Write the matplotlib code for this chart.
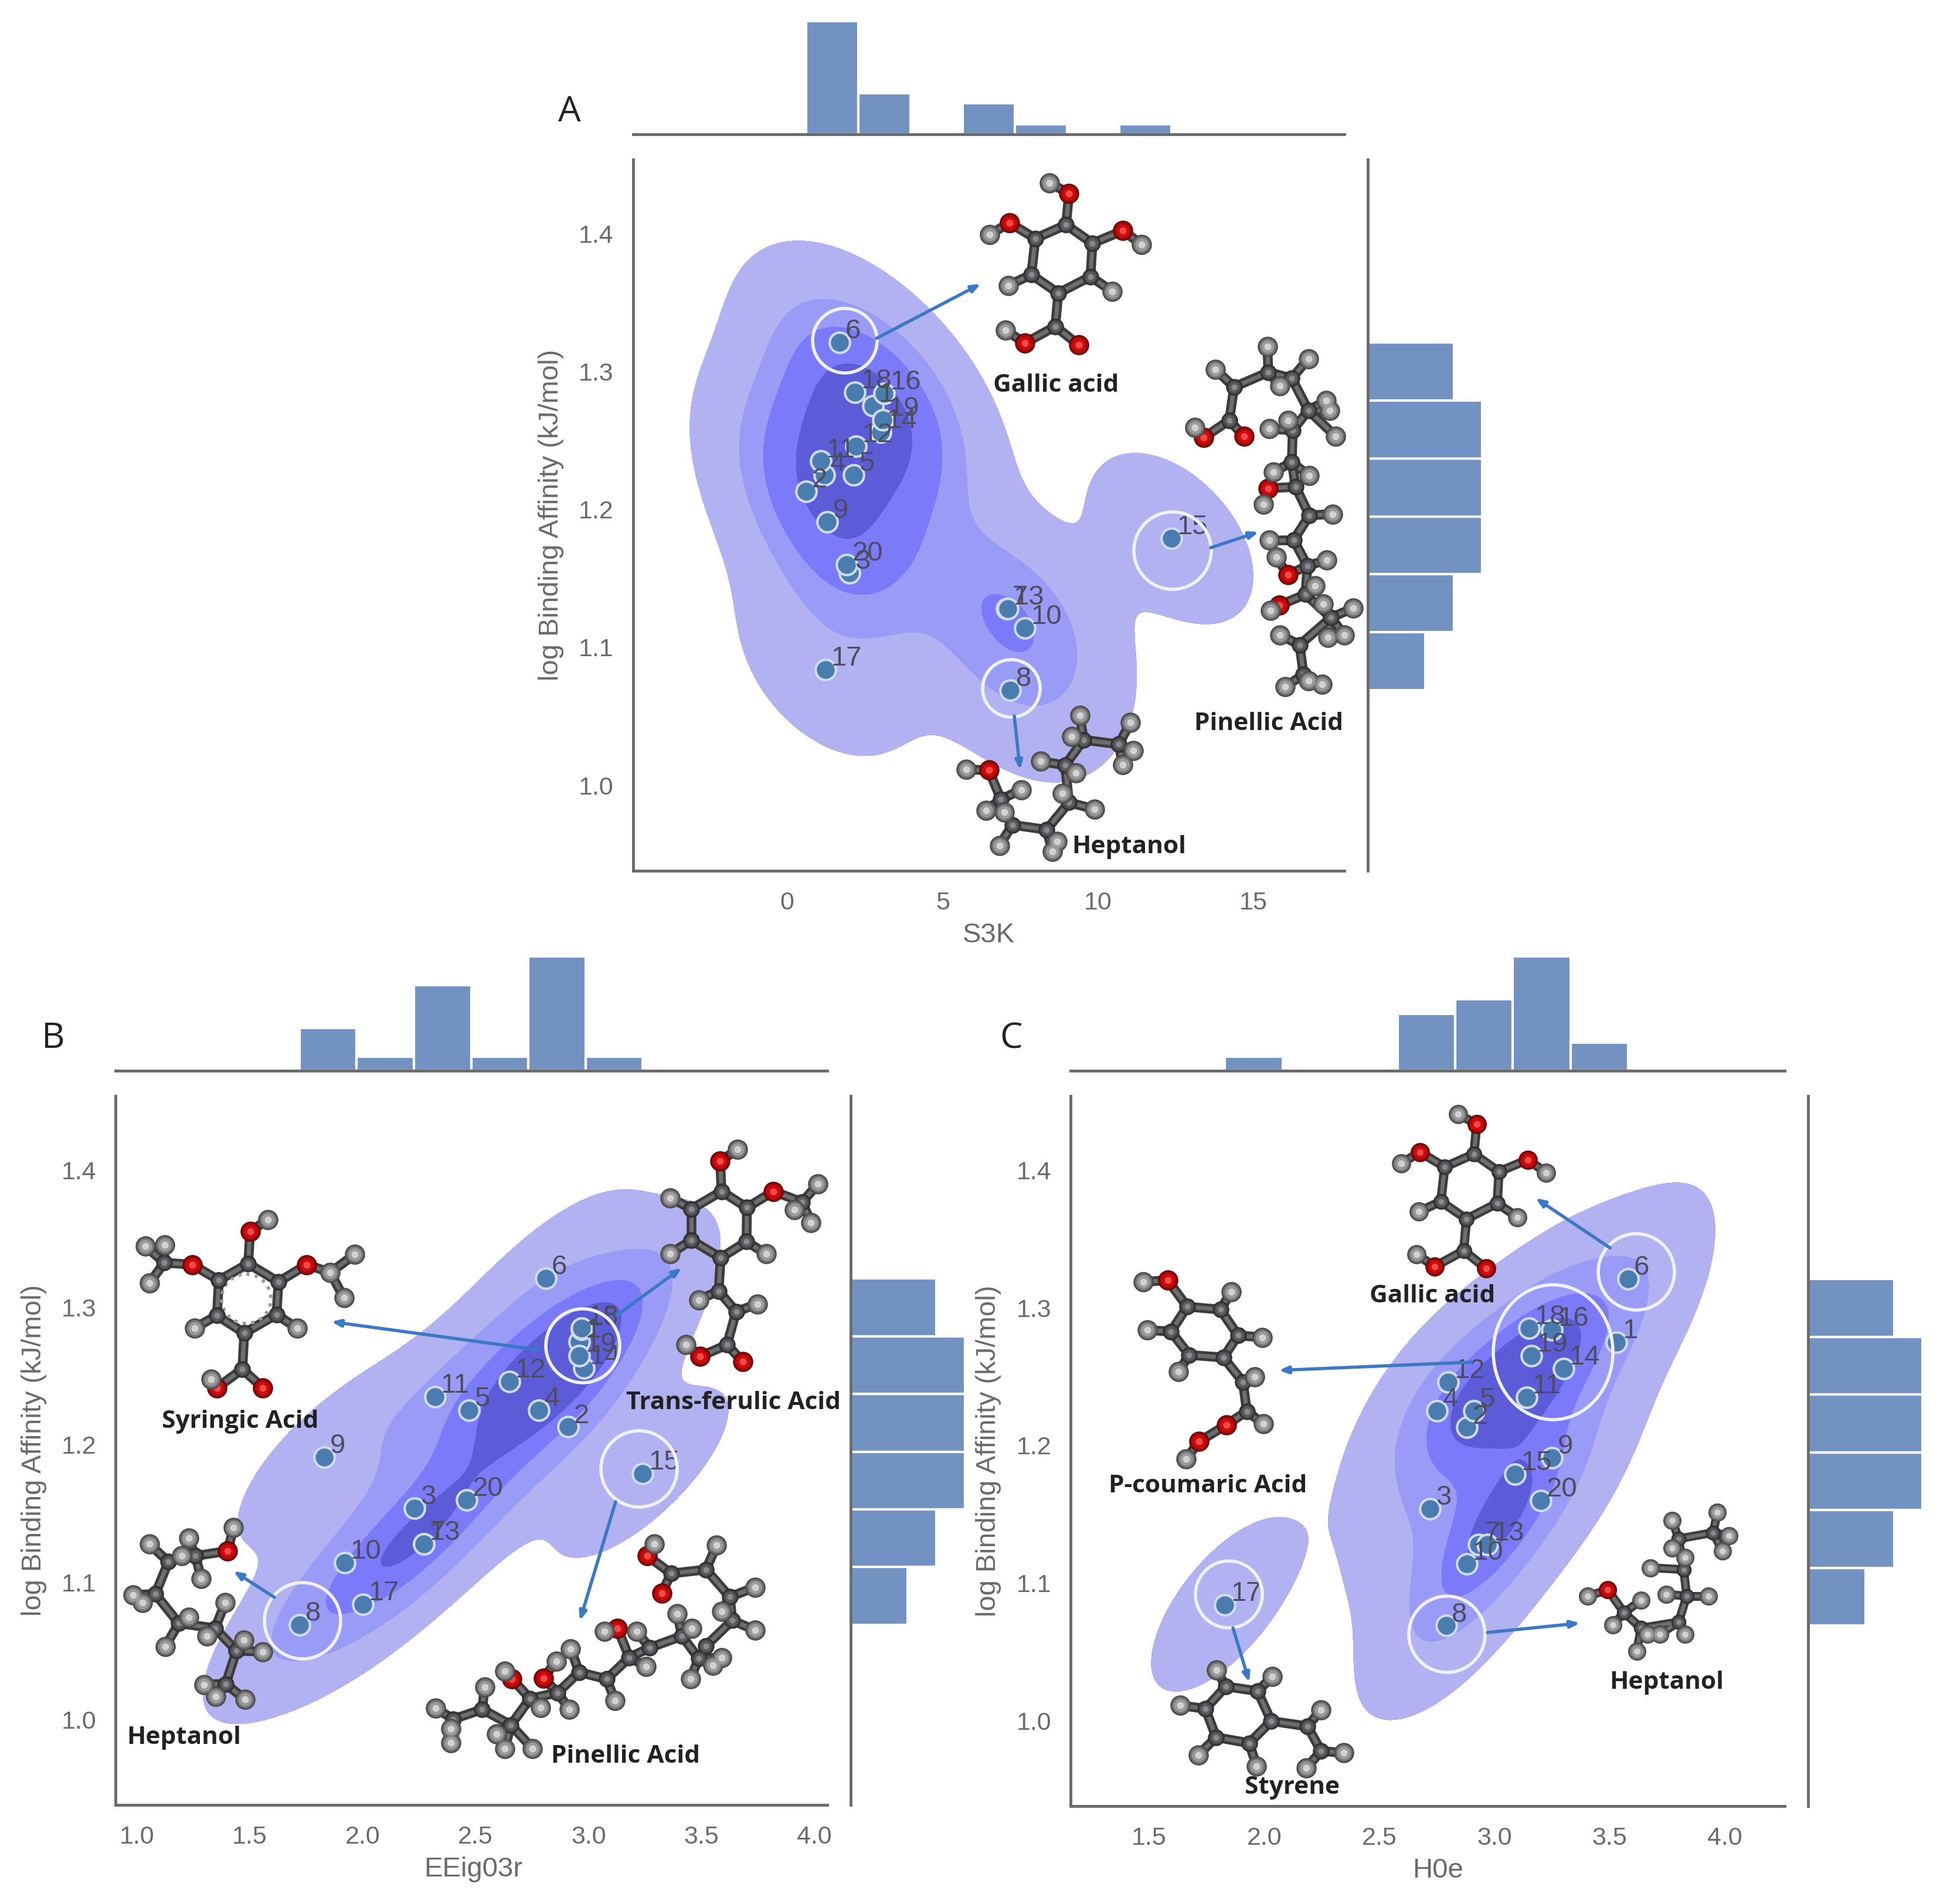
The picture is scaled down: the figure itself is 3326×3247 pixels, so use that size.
import numpy as np
import matplotlib
matplotlib.use("Agg")
import matplotlib.pyplot as plt
from matplotlib.patches import Ellipse

# compounds 1..20
labels = [str(i) for i in range(1, 21)]
log_ba = [1.275, 1.213, 1.154, 1.225, 1.225, 1.321, 1.128, 1.069, 1.191, 1.114,
          1.235, 1.246, 1.128, 1.256, 1.179, 1.284, 1.084, 1.285, 1.265, 1.160]
s3k = [2.76, 0.60, 2.00, 1.19, 2.13, 1.68, 7.06, 7.17, 1.28, 7.65,
       1.08, 2.22, 7.09, 3.00, 12.36, 3.12, 1.23, 2.18, 3.07, 1.91]
eeig03r = [2.96, 2.91, 2.23, 2.78, 2.47, 2.81, 2.27, 1.72, 1.83, 1.92,
           2.32, 2.65, 2.27, 2.98, 3.24, 2.97, 2.00, 2.97, 2.96, 2.46]
h0e = [3.53, 2.88, 2.72, 2.75, 2.91, 3.58, 2.93, 2.79, 3.25, 2.88,
       3.14, 2.80, 2.97, 3.30, 3.09, 3.25, 1.83, 3.15, 3.16, 3.20]

y_ticks = [1.0, 1.1, 1.2, 1.3, 1.4]
s3k_ticks = [0, 5, 10, 15]
half_ticks = [1.0, 1.5, 2.0, 2.5, 3.0, 3.5, 4.0]
half_ticks_c = [1.5, 2.0, 2.5, 3.0, 3.5, 4.0]

KDE_COLORS = ["#b2b2f3", "#9a9af7", "#7a7afa", "#5c5cd9"]
KDE_PROPS = [0.05, 0.2875, 0.525, 0.7625]
HIST_COLOR = "#7292c1"
POINT_COLOR = "#4a7cb0"
GREY = "#6a6a6a"
W, H = 3326, 3247
S = W / 1568  # positions measured on the 1568 px preview

fig = plt.figure(figsize=(W / 100, H / 100), dpi=100, facecolor="white")
plt.rcParams["font.family"] = ["Liberation Sans", "DejaVu Sans"]


def rect(left, top, right, bottom):
    return [left * S / W, 1 - bottom * S / H, (right - left) * S / W, (bottom - top) * S / H]


def kde_grid(x, y):
    # same thing scipy gaussian_kde does with scott bandwidth
    pts = np.vstack([x, y])
    factor = len(x) ** (-1 / 6)
    cov = np.cov(pts) * factor ** 2
    inv = np.linalg.inv(cov)
    xs = np.linspace(min(x) - 3 * np.sqrt(cov[0, 0]), max(x) + 3 * np.sqrt(cov[0, 0]), 300)
    ys = np.linspace(min(y) - 3 * np.sqrt(cov[1, 1]), max(y) + 3 * np.sqrt(cov[1, 1]), 300)
    gx, gy = np.meshgrid(xs, ys)
    z = np.zeros_like(gx)
    for px, py in zip(x, y):
        dx, dy = gx - px, gy - py
        z += np.exp(-0.5 * (inv[0, 0] * dx * dx + 2 * inv[0, 1] * dx * dy + inv[1, 1] * dy * dy))
    return gx, gy, z


def iso_levels(z, props):
    vals = np.sort(z.ravel())[::-1]
    norm = np.cumsum(vals) / vals.sum()
    idx = np.searchsorted(norm, 1 - np.asarray(props))
    return np.take(vals, idx, mode="clip")


def panel(x, name, xlim, ticks, box, top_box, right_box, bins, xlabel_x):
    ax = fig.add_axes(rect(*box))
    gx, gy, z = kde_grid(x, log_ba)
    levels = list(iso_levels(z, KDE_PROPS)) + [z.max() * 1.01]
    ax.contourf(gx, gy, z, levels=levels, colors=KDE_COLORS, zorder=1)
    ax.scatter(x, log_ba, s=620, color=POINT_COLOR, edgecolor="#cfdcec", linewidth=3, zorder=3)
    for lab, px, py in zip(labels, x, log_ba):
        ax.annotate(lab, (px, py), xytext=(7, 5), textcoords="offset points",
                    fontsize=34, color="#4c4c5c", zorder=4)
    ax.set_xlim(xlim)
    ax.set_ylim(0.938, 1.454)
    ax.set_xticks(ticks)
    ax.set_yticks(y_ticks)
    ax.tick_params(length=0, labelsize=31, labelcolor=GREY)
    ax.tick_params(axis="x", pad=25)
    ax.tick_params(axis="y", pad=24)
    ax.set_xlabel(name, fontsize=34, color=GREY, va="center")
    ax.xaxis.set_label_coords(xlabel_x, -0.091)
    ax.set_ylabel("log Binding Affinity (kJ/mol)", fontsize=34, color=GREY, va="center")
    ax.yaxis.set_label_coords(-0.115, 0.5)
    for side in ["top", "right"]:
        ax.spines[side].set_visible(False)
    for side in ["left", "bottom"]:
        ax.spines[side].set_color(GREY)
        ax.spines[side].set_linewidth(3.5)

    top = fig.add_axes(rect(*top_box))
    top.hist(x, bins=bins, color=HIST_COLOR, edgecolor="white", linewidth=3)
    top.set_xlim(xlim)
    top.margins(y=0)
    top.set_xticks([])
    top.set_yticks([])
    for side in ["top", "left", "right"]:
        top.spines[side].set_visible(False)
    top.spines["bottom"].set_color(GREY)
    top.spines["bottom"].set_linewidth(3.5)

    right = fig.add_axes(rect(*right_box))
    right.hist(log_ba, bins=6, orientation="horizontal", color=HIST_COLOR, edgecolor="white", linewidth=3)
    right.set_ylim(0.938, 1.454)
    right.margins(x=0)
    right.set_xticks([])
    right.set_yticks([])
    for side in ["top", "bottom", "right"]:
        right.spines[side].set_visible(False)
    right.spines["left"].set_color(GREY)
    right.spines["left"].set_linewidth(3.5)


panel(s3k, "S3K", (-4.96, 17.92), s3k_ticks, (509, 128, 1081, 700), (509, 17, 1081, 108),
      (1100, 128, 1192, 700), 7, 0.5)
panel(eeig03r, "EEig03r", (0.906, 4.056), half_ticks, (93, 881, 665, 1451), (93, 769, 665, 861),
      (684, 881, 776, 1451), 6, 0.503)
panel(h0e, "H0e", (1.16, 4.26), half_ticks_c, (861, 881, 1435, 1452), (861, 769, 1435, 861),
      (1454, 881, 1546, 1452), 7, 0.514)

# overlay in image pixels for the drawn molecules, arrows, rings and captions
ov = fig.add_axes([0, 0, 1, 1], facecolor="none", zorder=10)
ov.set_xlim(0, W)
ov.set_ylim(H, 0)
ov.axis("off")


def crop(ox, oy, sx=3.0, sy=3.0):
    return lambda a: (ox + a[0] / sx, oy + a[1] / sy)


# molecule sketches: atoms (x, y, element) in zoomed crop coordinates, bonds as index pairs
gallic_atoms = [(475, 310, "C"), (610, 405, "C"), (600, 575, "C"), (435, 660, "C"), (297, 565, "C"), (318, 380, "C"),
                (490, 150, "O"), (390, 95, "H"), (185, 300, "O"), (85, 360, "H"), (765, 340, "O"), (862, 410, "H"),
                (180, 620, "H"), (710, 650, "H"), (420, 830, "C"), (265, 915, "O"), (165, 850, "H"), (540, 925, "O")]
gallic_bonds = [(0, 1), (1, 2), (2, 3), (3, 4), (4, 5), (5, 0), (0, 6), (6, 7), (5, 8), (8, 9), (1, 10), (10, 11),
                (4, 12), (2, 13), (3, 14), (14, 15), (15, 16), (14, 17)]

syringic_atoms = [(640, 285, "C"), (795, 378, "C"), (785, 545, "C"), (620, 640, "C"), (480, 550, "C"), (490, 370, "C"),
                  (650, 120, "O"), (740, 60, "H"), (355, 290, "O"), (210, 280, "C"), (115, 195, "H"), (212, 190, "H"),
                  (135, 385, "H"), (940, 290, "O"), (1060, 330, "H"), (1185, 238, "H"), (1130, 460, "H"),
                  (365, 615, "H"), (890, 615, "H"), (610, 825, "C"), (480, 920, "O"), (450, 875, "H"), (715, 920, "O")]
syringic_bonds = [(0, 1), (1, 2), (2, 3), (3, 4), (4, 5), (5, 0), (0, 6), (6, 7), (5, 8), (8, 9), (9, 10), (9, 11),
                  (9, 12), (1, 13), (13, 14), (14, 15), (14, 16), (4, 17), (2, 18), (3, 19), (19, 20),
                  (20, 21), (19, 22)]

ferulic_atoms = [(362, 305, "C"), (492, 388, "C"), (490, 562, "C"), (358, 645, "C"), (208, 555, "C"), (208, 395, "C"),
                 (355, 150, "O"), (445, 90, "H"), (628, 305, "O"), (775, 360, "C"), (855, 268, "H"), (820, 465, "H"),
                 (735, 400, "H"), (100, 338, "H"), (98, 625, "H"), (590, 625, "H"), (347, 815, "C"), (245, 860, "H"),
                 (437, 920, "C"), (545, 882, "H"), (390, 1090, "C"), (252, 1150, "O"), (180, 1088, "H"), (470, 1175, "O")]
ferulic_bonds = [(0, 1), (1, 2), (2, 3), (3, 4), (4, 5), (5, 0), (0, 6), (6, 7), (1, 8), (8, 9), (9, 10), (9, 11),
                 (9, 12), (5, 13), (4, 14), (2, 15), (3, 16), (16, 17), (16, 18), (18, 19), (18, 20), (20, 21),
                 (21, 22), (20, 23)]

hept_a_atoms = [(200, 400, "O"), (85, 397, "H"), (262, 550, "C"), (320, 680, "C"), (495, 705, "C"), (610, 565, "C"),
                (590, 375, "C"), (685, 245, "C"), (865, 268, "C"), (365, 500, "H"), (185, 605, "H"), (280, 615, "H"),
                (255, 785, "H"), (550, 765, "H"), (525, 815, "H"), (740, 600, "H"), (575, 520, "H"), (465, 355, "H"),
                (645, 415, "H"), (665, 120, "H"), (625, 228, "H"), (925, 155, "H"), (940, 300, "H"), (885, 372, "H")]
hept_a_bonds = [(0, 1), (0, 2), (2, 3), (3, 4), (4, 5), (5, 6), (6, 7), (7, 8), (2, 9), (2, 10), (2, 11), (3, 12),
                (4, 13), (4, 14), (5, 15), (5, 16), (6, 17), (6, 18), (7, 19), (7, 20), (8, 21), (8, 22), (8, 23)]

hept_b_atoms = [(565, 165, "O"), (595, 45, "H"), (400, 190, "C"), (365, 100, "H"), (430, 305, "H"), (330, 190, "H"),
                (262, 220, "C"), (165, 130, "H"), (195, 385, "C"), (80, 390, "H"), (130, 430, "H"), (315, 535, "C"),
                (245, 655, "H"), (365, 505, "H"), (500, 560, "C"), (460, 600, "H"), (553, 430, "H"), (610, 675, "C"),
                (648, 620, "H"), (745, 680, "H"), (555, 845, "C"), (445, 848, "H"), (505, 910, "H"), (655, 925, "H")]
hept_b_bonds = [(0, 1), (0, 2), (2, 3), (2, 4), (6, 5), (2, 6), (6, 7), (6, 8), (8, 9), (8, 10), (8, 11), (11, 12),
                (11, 13), (11, 14), (14, 15), (14, 16), (14, 17), (17, 18), (17, 19), (17, 20), (20, 21), (20, 22),
                (20, 23)]

hept_c_atoms = [(1022, 1058, "O"), (990, 1068, "H"), (1048, 1095, "C"), (1075, 1120, "C"), (1135, 1110, "C"), (1148, 1068, "C"),
                (1143, 1025, "C"), (1135, 975, "C"), (1190, 965, "C"), (1030, 1115, "H"), (1075, 1075, "H"), (1068, 1158, "H"),
                (1085, 1130, "H"), (1105, 1130, "H"), (1145, 1130, "H"), (1183, 1068, "H"), (1115, 1065, "H"), (1090, 1022, "H"),
                (1145, 1005, "H"), (1125, 945, "H"), (1125, 990, "H"), (1197, 932, "H"), (1215, 970, "H"), (1205, 995, "H")]
hept_c_bonds = [(0, 1), (0, 2), (2, 3), (3, 4), (4, 5), (5, 6), (6, 7), (7, 8), (2, 9), (2, 10), (3, 11), (3, 12),
                (4, 13), (4, 14), (5, 15), (5, 16), (6, 17), (6, 18), (7, 19), (7, 20), (8, 21), (8, 22), (8, 23)]

styrene_atoms = [(333, 108, "C"), (495, 132, "C"), (565, 285, "C"), (452, 398, "C"), (283, 368, "C"), (228, 222, "C"),
                 (285, 25, "H"), (570, 58, "H"), (100, 205, "H"), (192, 458, "H"), (490, 515, "H"),
                 (750, 312, "C"), (820, 438, "C"), (820, 228, "H"), (745, 525, "H"), (935, 448, "H")]
styrene_bonds = [(0, 1), (1, 2), (2, 3), (3, 4), (4, 5), (5, 0), (0, 6), (1, 7), (5, 8), (4, 9), (3, 10), (2, 11),
                 (11, 12), (11, 13), (12, 14), (12, 15)]

coumaric_atoms = [(245, 100, "O"), (120, 108, "H"), (345, 235, "C"), (515, 250, "C"), (605, 382, "C"), (530, 495, "C"),
                  (355, 482, "C"), (262, 362, "C"), (570, 160, "H"), (730, 392, "H"), (300, 568, "H"), (140, 355, "H"),
                  (630, 620, "C"), (690, 595, "H"), (650, 770, "C"), (735, 835, "H"), (545, 840, "O"), (405, 925, "O"),
                  (340, 1015, "H")]
coumaric_bonds = [(0, 1), (2, 0), (2, 3), (3, 4), (4, 5), (5, 6), (6, 7), (7, 2), (3, 8), (4, 9), (6, 10), (7, 11),
                  (5, 12), (12, 13), (12, 14), (14, 15), (14, 16), (16, 17), (17, 18)]

pin_a_chain = [(290, 420), (315, 285), (490, 225), (610, 250), (695, 380), (615, 460), (610, 590), (630, 690),
               (700, 805), (620, 905), (690, 1010), (680, 1125), (810, 1220), (650, 1330), (670, 1450)]
pin_a_atoms = [(p[0], p[1], "C") for p in pin_a_chain] + [
    (160, 490, "O"), (115, 450, "H"), (365, 485, "O"), (220, 215, "H"), (485, 120, "H"), (550, 280, "H"),
    (695, 170, "H"), (785, 340, "H"), (805, 380, "H"), (835, 485, "H"), (495, 455, "H"), (590, 420, "H"),
    (515, 630, "H"), (700, 645, "H"), (490, 695, "O"), (465, 760, "H"), (820, 800, "H"), (495, 905, "H"),
    (530, 975, "H"), (590, 1045, "O"), (790, 985, "H"), (730, 1090, "H"), (545, 1170, "O"), (500, 1190, "H"),
    (770, 1165, "H"), (925, 1180, "H"), (880, 1290, "H"), (795, 1300, "H"), (550, 1290, "H"), (575, 1500, "H"),
    (695, 1475, "H"), (765, 1490, "H")]
pin_a_bonds = [(i, i + 1) for i in range(14)] + [
    (0, 15), (15, 16), (0, 17), (1, 18), (2, 19), (2, 20), (3, 21), (4, 22), (4, 23), (4, 24), (5, 25), (5, 26),
    (6, 27), (6, 28), (7, 29), (29, 30), (8, 31), (9, 32), (34, 33), (10, 34), (10, 35), (11, 36), (11, 37), (37, 38),
    (12, 39), (12, 40), (12, 41), (12, 42), (13, 43), (14, 44), (14, 45), (14, 46)]

pin_b_chain = [(1090, 190), (1235, 170), (1335, 310), (1345, 430), (1235, 560), (1205, 625), (1135, 510), (1000, 570),
               (915, 620), (820, 730), (705, 695), (615, 800), (500, 830), (420, 965), (300, 885), (180, 935)]
pin_b_atoms = [(p[0], p[1], "C") for p in pin_b_chain] + [
    (990, 100, "O"), (1020, 40, "H"), (1050, 290, "O"), (1280, 45, "H"), (1440, 260, "H"), (1300, 385, "H"),
    (1440, 480, "H"), (1300, 620, "H"), (1265, 660, "H"), (1170, 730, "H"), (1175, 470, "H"), (1115, 395, "H"),
    (945, 485, "H"), (985, 665, "H"), (865, 470, "O"), (810, 485, "H"), (855, 840, "H"), (670, 575, "H"),
    (555, 725, "O"), (610, 640, "H"), (665, 885, "H"), (425, 730, "O"), (395, 690, "H"), (545, 875, "H"),
    (360, 1010, "H"), (395, 1085, "H"), (510, 1085, "H"), (310, 770, "H"), (105, 880, "H"), (170, 985, "H"),
    (170, 1055, "H")]
pin_b_bonds = [(i, i + 1) for i in range(15)] + [
    (0, 16), (16, 17), (0, 18), (1, 19), (2, 20), (2, 21), (3, 22), (5, 23), (5, 24), (5, 25), (6, 26), (6, 27),
    (7, 28), (8, 29), (8, 30), (30, 31), (9, 32), (10, 33), (11, 34), (34, 35), (11, 36), (12, 37), (37, 38),
    (12, 39), (13, 40), (13, 41), (13, 42), (14, 43), (15, 44), (15, 45), (15, 46)]


def draw_molecule(atoms, bonds, mapper, k=1.0):
    xy = [mapper(a) for a in atoms]
    for i, j in bonds:
        xs = [xy[i][0], xy[j][0]]
        ys = [xy[i][1], xy[j][1]]
        ov.plot(xs, ys, color="#3c3c3c", lw=12 * k, solid_capstyle="round", zorder=5)
        ov.plot(xs, ys, color="#6e6e6e", lw=5 * k, solid_capstyle="round", zorder=5.1)
    sizes = {"C": 420, "O": 620, "H": 620}
    shades = {"C": ["#2e2e2e", "#444448", "#5c5c60", "#8a8a90"],
              "O": ["#6e0606", "#a80808", "#cc0c0c", "#f04a4a"],
              "H": ["#4c4c4c", "#747474", "#9a9a9a", "#d2d2d2"]}
    for n, el in enumerate(["C", "O", "H"]):
        pts = [p for p, a in zip(xy, atoms) if a[2] == el]
        if not pts:
            continue
        px = [p[0] for p in pts]
        py = [p[1] for p in pts]
        for m, (shade, frac) in enumerate(zip(shades[el], [1.0, 0.7, 0.42, 0.12])):
            ov.scatter(px, py, s=sizes[el] * frac * k * k, color=shade, linewidth=0, zorder=5.2 + n * 0.1 + m * 0.01)


draw_molecule(gallic_atoms, gallic_bonds, crop(1660, 280))
draw_molecule(pin_a_atoms, pin_a_bonds, crop(2000, 540, 3.0, 2.376))
draw_molecule(hept_a_atoms, hept_a_bonds, crop(1620, 1180))
draw_molecule(syringic_atoms, syringic_bonds, crop(210, 2060))
draw_molecule(ferulic_atoms, ferulic_bonds, crop(1110, 1930))
draw_molecule(hept_b_atoms, hept_b_bonds, crop(200, 2590))
draw_molecule(pin_b_atoms, pin_b_bonds, crop(700, 2620, 2.45, 3.0))
# panel C reuses the gallic sketch a bit smaller
draw_molecule(gallic_atoms, gallic_bonds, crop(2514 - 475 * 0.317, 1968 - 310 * 0.317, 1 / 0.317, 1 / 0.317), 0.95)
draw_molecule(coumaric_atoms, coumaric_bonds, crop(1910, 2150))
draw_molecule(hept_c_atoms, hept_c_bonds, crop(1650, 1600, 0.9356, 0.952), 0.9)
draw_molecule(styrene_atoms, styrene_bonds, crop(1980, 2840))

# dotted aromatic ring of the syringic acid sketch
ov.add_patch(Ellipse((420, 2215), 84, 84, fill=False, ec="#9a9a9a", lw=4, ls=":", zorder=5))

# rings around the highlighted compounds: x, y, width, height in image pixels
rings = [(1441, 581, 110, 110), (2000, 939, 132, 132), (1725, 1174, 98, 98),
         (516, 2764, 130, 130), (994, 2295, 126, 126), (1090, 2505, 130, 130),
         (2791, 2169, 130, 130), (2649, 2306, 204, 230), (2468, 2787, 130, 130), (2096, 2719, 114, 114)]
for rx, ry, rw, rh in rings:
    ov.add_patch(Ellipse((rx, ry), rw, rh, fill=False, ec="#f0f1fc", lw=4, zorder=4))

arrows = [((1495, 577), (1673, 484)), ((2065, 934), (2147, 907)), ((1730, 1221), (1740, 1313)),
          ((919, 2302), (565, 2254)), ((1052, 2243), (1163, 2162)), ((468, 2724), (398, 2679)),
          ((1050, 2561), (989, 2764)), ((2746, 2128), (2619, 2043)), ((2510, 2323), (2181, 2337)),
          ((2537, 2784), (2695, 2768)), ((2103, 2776), (2131, 2869))]
for start, end in arrows:
    ov.annotate("", xy=end, xytext=start, zorder=7,
                arrowprops=dict(arrowstyle="-|>,head_length=0.9,head_width=0.35", color="#3b78c6", lw=4,
                                shrinkA=0, shrinkB=0))

captions = [("Gallic acid", 849, 310), ("Pinellic Acid", 1020, 582), ("Heptanol", 908, 681),
            ("Syringic Acid", 193, 1143), ("Trans-ferulic Acid", 590, 1128), ("Heptanol", 148, 1397),
            ("Pinellic Acid", 503, 1412), ("Gallic acid", 1152, 1042), ("P-coumaric Acid", 971, 1195),
            ("Heptanol", 1340, 1353), ("Styrene", 1039, 1437)]
for text, cx, cy in captions:
    ov.text(cx * S, cy * S, text, fontsize=30.5, fontweight="bold", family="Open Sans", color="#222222",
            ha="center", va="center", zorder=8)

for text, cx, cy in [("A", 458, 90), ("B", 43, 835), ("C", 813, 835)]:
    ov.text(cx * S, cy * S, text, fontsize=44, family="Open Sans", color="#222222",
            ha="center", va="center", zorder=8)

fig.savefig("out.png", dpi=100, facecolor="white")
